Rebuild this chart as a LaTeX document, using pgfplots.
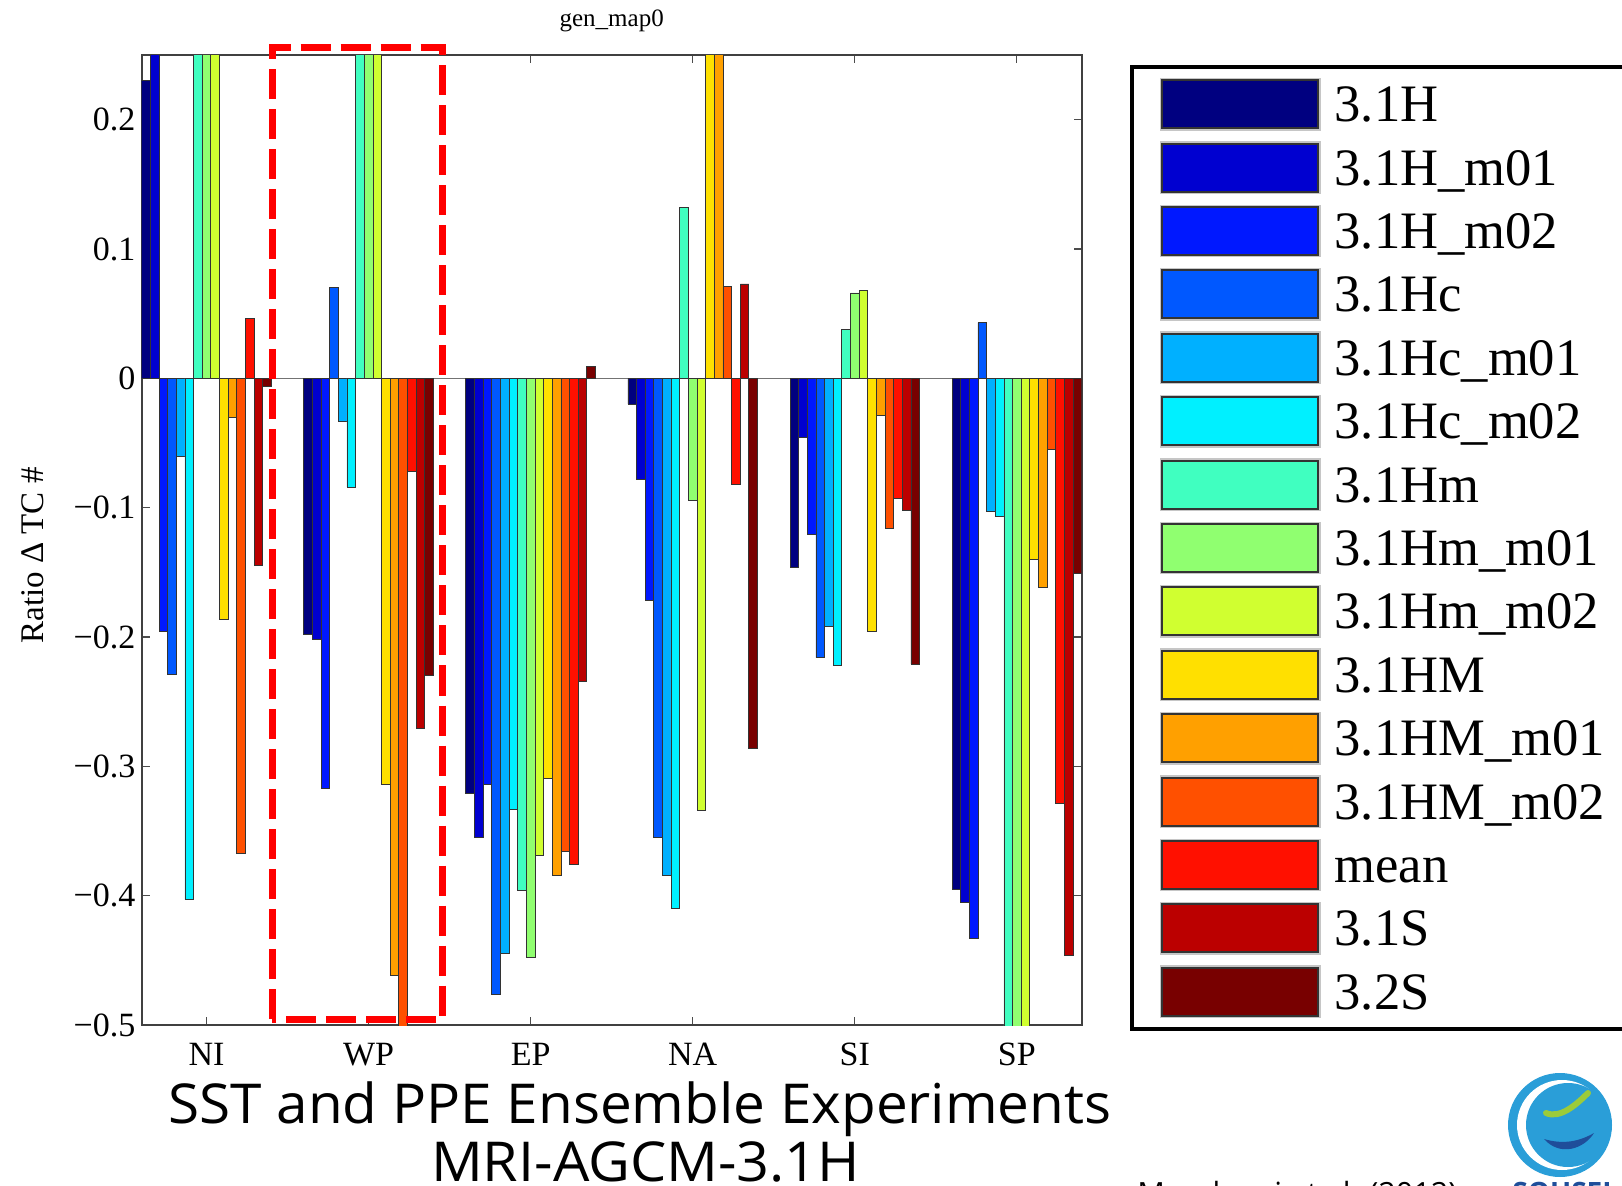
\documentclass[border=0pt]{standalone}
\usepackage{pgfplots}
\pgfplotsset{compat=1.18}
\usepackage{pgfplotstable}
\usepackage{fontspec}
\setmainfont{Liberation Serif}
\newfontfamily\sansf{Open Sans}
\definecolor{c1}{HTML}{000080}
\definecolor{c2}{HTML}{0000D0}
\definecolor{c3}{HTML}{0018FF}
\definecolor{c4}{HTML}{0058FF}
\definecolor{c5}{HTML}{00B0FF}
\definecolor{c6}{HTML}{00F0FF}
\definecolor{c7}{HTML}{40FFC0}
\definecolor{c8}{HTML}{90FF70}
\definecolor{c9}{HTML}{D0FF30}
\definecolor{c10}{HTML}{FFE000}
\definecolor{c11}{HTML}{FFA000}
\definecolor{c12}{HTML}{FF5000}
\definecolor{c13}{HTML}{FF1000}
\definecolor{c14}{HTML}{BB0000}
\definecolor{c15}{HTML}{780000}
\definecolor{logoblue}{HTML}{2A9ED8}
\definecolor{logodark}{HTML}{1F4E9A}
\definecolor{logogreen}{HTML}{9CCB3B}

% x: 1=NI 2=WP 3=EP 4=NA 5=SI 6=SP
\pgfplotstableread{
x  s1     s2      s3      s4     s5      s6     s7     s8     s9     s10    s11    s12    s13     s14    s15
1  0.230  0.30   -0.1955 -0.229 -0.060  -0.403  0.30   0.30   0.30  -0.186 -0.030 -0.367  0.0465 -0.145 -0.006
2 -0.198 -0.2015 -0.317   0.070 -0.033  -0.084  0.30   0.30   0.30  -0.314 -0.462 -0.55  -0.072  -0.271 -0.230
3 -0.321 -0.355  -0.314  -0.476 -0.445  -0.333 -0.396 -0.448 -0.369 -0.309 -0.384 -0.366 -0.376  -0.234  0.009
4 -0.020 -0.078  -0.172  -0.355 -0.384  -0.410  0.132 -0.094 -0.334  0.30   0.30   0.071 -0.082   0.073 -0.286
5 -0.146 -0.0455 -0.121  -0.216 -0.1915 -0.222  0.038  0.066  0.068 -0.196 -0.029 -0.116 -0.093  -0.102 -0.221
6 -0.395 -0.405  -0.433   0.043 -0.1025 -0.107 -0.55  -0.55  -0.55  -0.140 -0.162 -0.055 -0.329  -0.446 -0.151
}\datatable

\begin{document}
\begin{tikzpicture}
\useasboundingbox (0,0) rectangle (811pt,592.5pt);
\begin{axis}[
  at={(70.85pt,80pt)}, anchor=south west,
  scale only axis, width=470pt, height=485pt,
  xmin=0.6, xmax=6.4, ymin=-0.5, ymax=0.25,
  ybar=0pt, bar width=4.32pt,
  xtick={1,2,3,4,5,6}, xticklabels={NI,WP,EP,NA,SI,SP},
  ytick={-0.5,-0.4,-0.3,-0.2,-0.1,0,0.1,0.2},
  yticklabels={−0.5,−0.4,−0.3,−0.2,−0.1,0,0.1,0.2},
  tick pos=both, tick align=inside, major tick length=4pt,
  every tick/.style={black!70, line width=0.6pt},
  axis line style={black!75, line width=0.9pt},
  ticklabel style={font=\fontsize{17}{18}\selectfont},
  xticklabel style={inner sep=0pt, anchor=north, yshift=-9pt},
  yticklabel style={inner sep=0pt, anchor=east, xshift=-3pt},
  extra y ticks={0}, extra y tick labels={},
  extra y tick style={grid=major, major grid style={black!55, line width=0.8pt}},
  legend cell align=left,
  legend style={at={(1.0514,0.9895)}, anchor=north west, draw=black, line width=1.8pt, fill=white,
    font=\fontsize{26.3}{28}\selectfont, inner xsep=14pt, inner ysep=5.4pt,
    row sep=5.3pt, column sep=7pt,
    nodes={inner sep=0pt, text height=20.75pt, text depth=3.25pt}},
  legend image code/.code={
    \draw[gray!45, line width=0.8pt] (-0.8pt,-12.8pt) rectangle (78.8pt,12.8pt);
    \draw[#1, draw=black!80, line width=1pt] (0pt,-12pt) rectangle (78pt,12pt);
  },
]
\addplot[fill=c1,  draw=black!80, line width=0.4pt] table[x=x,y=s1]  {\datatable};
\addplot[fill=c2,  draw=black!80, line width=0.4pt] table[x=x,y=s2]  {\datatable};
\addplot[fill=c3,  draw=black!80, line width=0.4pt] table[x=x,y=s3]  {\datatable};
\addplot[fill=c4,  draw=black!80, line width=0.4pt] table[x=x,y=s4]  {\datatable};
\addplot[fill=c5,  draw=black!80, line width=0.4pt] table[x=x,y=s5]  {\datatable};
\addplot[fill=c6,  draw=black!80, line width=0.4pt] table[x=x,y=s6]  {\datatable};
\addplot[fill=c7,  draw=black!80, line width=0.4pt] table[x=x,y=s7]  {\datatable};
\addplot[fill=c8,  draw=black!80, line width=0.4pt] table[x=x,y=s8]  {\datatable};
\addplot[fill=c9,  draw=black!80, line width=0.4pt] table[x=x,y=s9]  {\datatable};
\addplot[fill=c10, draw=black!80, line width=0.4pt] table[x=x,y=s10] {\datatable};
\addplot[fill=c11, draw=black!80, line width=0.4pt] table[x=x,y=s11] {\datatable};
\addplot[fill=c12, draw=black!80, line width=0.4pt] table[x=x,y=s12] {\datatable};
\addplot[fill=c13, draw=black!80, line width=0.4pt] table[x=x,y=s13] {\datatable};
\addplot[fill=c14, draw=black!80, line width=0.4pt] table[x=x,y=s14] {\datatable};
\addplot[fill=c15, draw=black!80, line width=0.4pt] table[x=x,y=s15] {\datatable};
\legend{3.1H,3.1H\_m01,3.1H\_m02,3.1Hc,3.1Hc\_m01,3.1Hc\_m02,3.1Hm,3.1Hm\_m01,3.1Hm\_m02,3.1HM,3.1HM\_m01,3.1HM\_m02\hspace{12pt},mean,3.1S,3.2S}
\end{axis}
% title and y label
\node[anchor=base, font=\fontsize{12.5}{14}\selectfont] at (305.85pt,579pt) {gen\_map0};
\node[rotate=90, font=\fontsize{16.5}{18}\selectfont] at (16.5pt,314.75pt) {Ratio Δ TC \#};
% highlight box
\draw[red, line width=3.5pt, dash pattern=on 15pt off 5pt] (136pt,83pt) rectangle (221.35pt,568.7pt);
% captions
\node[anchor=base, font=\sansf\fontsize{27.5}{30}\selectfont, inner sep=0pt] at (320pt,31pt) {\scalebox{1.03}[1]{SST and PPE Ensemble Experiments}};
\node[anchor=base, font=\sansf\fontsize{27.5}{30}\selectfont, inner sep=0pt] at (322.8pt,2pt) {\scalebox{1.045}[1]{MRI-AGCM-3.1H}};
\node[anchor=base west, font=\sansf\fontsize{15.3}{17}\selectfont, inner sep=0pt] at (568.5pt,-9.5pt) {Murakami et al. (2012)};
% logo
\fill[logoblue] (780pt,30pt) circle (26pt);
\fill[white] (781pt,30pt) circle (22.5pt);
\fill[logoblue] (784pt,30pt) circle (21pt);
\draw[logogreen, line width=3pt, line cap=round] (773pt,36pt) .. controls (780pt,33pt) and (788pt,40pt) .. (794pt,46pt);
\fill[logodark] (772pt,23pt) .. controls (780pt,14pt) and (792pt,18pt) .. (797pt,26pt) .. controls (790pt,22pt) and (782pt,20pt) .. cycle;
\node[anchor=base west, font=\sansf\bfseries\fontsize{14}{16}\selectfont, text=logodark, inner sep=0pt] at (756pt,-8.5pt) {SOUSEI};
\end{tikzpicture}
\end{document}
